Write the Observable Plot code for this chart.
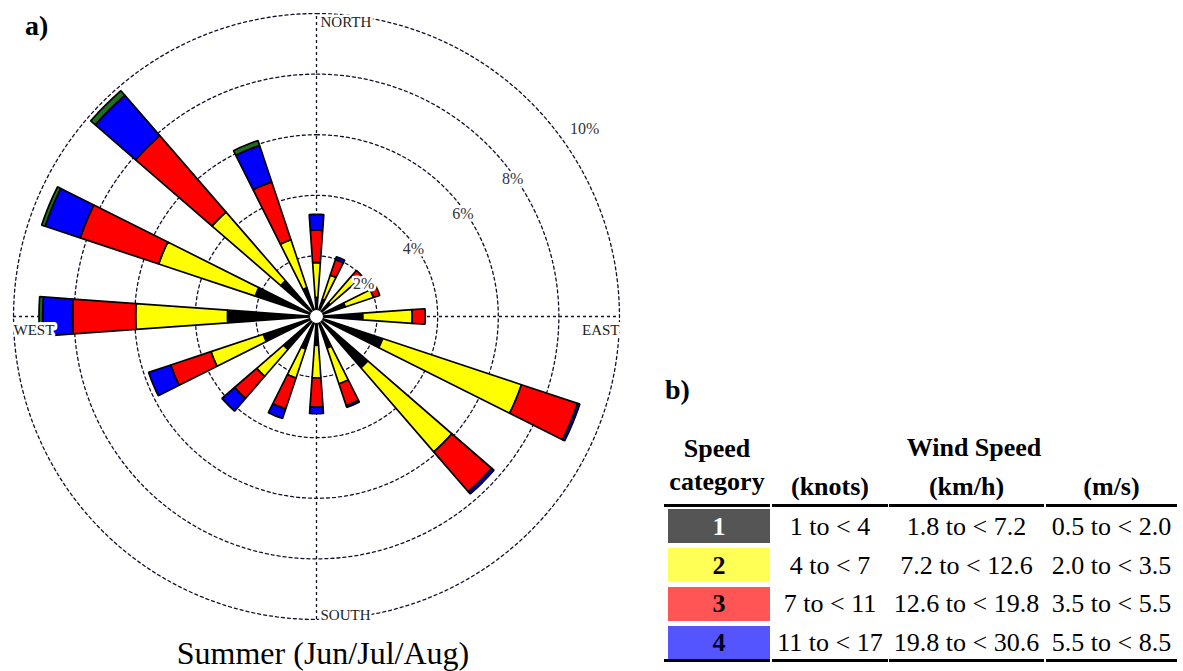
<!DOCTYPE html>
<html>
<head>
<meta charset="utf-8">
<script src="https://cdn.jsdelivr.net/npm/d3@7"></script>
<script src="https://cdn.jsdelivr.net/npm/@observablehq/plot@0.6"></script>
<style>
  html, body { margin: 0; padding: 0; background: #fff; }
  body { width: 1183px; height: 671px; overflow: hidden; position: relative;
         font-family: "Liberation Serif", "Times New Roman", serif; color: #000; }
  #chart { position: absolute; left: 0; top: 0; }
  .t { position: absolute; white-space: nowrap; line-height: 1; }
  .b { font-weight: bold; }
  .rule { position: absolute; background: #000; height: 3px; }
  .box { position: absolute; }
</style>
</head>
<body>
<div id="chart"></div>
<div id="panel"></div>
<script>
// ---------------- data ----------------
const directions = ["N","NNE","NE","ENE","E","ESE","SE","SSE","S","SSW","SW","WSW","W","WNW","NW","NNW"];
const speedCategories = ["1","2","3","4","5"];
// frequency (%) per direction for each speed category
const cat1 = [0.63, 0.60, 0.60, 1.00, 1.53, 2.30, 2.24, 1.10, 0.95, 1.13, 1.44, 1.85, 2.94, 2.13, 1.56, 1.00];
const cat2 = [1.15, 0.84, 1.14, 0.98, 1.63, 4.83, 3.67, 1.24, 1.08, 1.01, 1.17, 1.82, 3.03, 3.36, 3.00, 1.67];
const cat3 = [1.07, 0.54, 0.27, 0.22, 0.43, 1.95, 1.74, 0.75, 0.96, 1.08, 0.97, 1.40, 2.08, 2.73, 3.34, 2.01];
const cat4 = [0.52, 0.10, 0.00, 0.00, 0.00, 0.08, 0.10, 0.07, 0.22, 0.33, 0.55, 0.77, 0.99, 1.22, 1.76, 1.27];
const cat5 = [0.00, 0.00, 0.00, 0.00, 0.00, 0.00, 0.00, 0.00, 0.00, 0.00, 0.00, 0.00, 0.12, 0.12, 0.20, 0.17];
const barColors = ["#000000", "#ffff00", "#ff0000", "#0000ff", "#1f6f1f"];
const ringTicks = [2, 4, 6, 8, 10];
const ringLabels = ["2%", "4%", "6%", "8%", "10%"];
const compassLabels = ["NORTH", "EAST", "SOUTH", "WEST"];
const chartTitle = "Summer (Jun/Jul/Aug)";

// table (panel b)
const tableCategories = ["1", "2", "3", "4"];
const knots = ["1 to < 4", "4 to < 7", "7 to < 11", "11 to < 17"];
const kmh = ["1.8 to < 7.2", "7.2 to < 12.6", "12.6 to < 19.8", "19.8 to < 30.6"];
const ms = ["0.5 to < 2.0", "2.0 to < 3.5", "3.5 to < 5.5", "5.5 to < 8.5"];
const legendColors = ["#555555", "#ffff55", "#ff5555", "#5555ff"];
const legendTextColors = ["#ffffff", "#000000", "#000000", "#000022"];

// ---------------- wind rose ----------------
const catValues = [cat1, cat2, cat3, cat4, cat5];
const half = 4.1 * Math.PI / 180;   // half angular width of a spoke
const segs = [];
directions.forEach((d, i) => {
  const th = i * 22.5 * Math.PI / 180;
  let r0 = 0;
  speedCategories.forEach((c, k) => {
    const v = catValues[k][i];
    if (!(v > 0)) return;
    const r1 = r0 + v;
    const id = d + "-" + c;
    const n = 4;
    for (let j = 0; j <= n; j++) {
      const a = th - half + 2 * half * j / n;
      segs.push({id, cat: c, x: r1 * Math.sin(a), y: r1 * Math.cos(a)});
    }
    for (let j = n; j >= 0; j--) {
      const a = th - half + 2 * half * j / n;
      segs.push({id, cat: c, x: r0 * Math.sin(a), y: r0 * Math.cos(a)});
    }
    r0 = r1;
  });
});

const ringPts = [];
ringTicks.forEach(p => {
  for (let j = 0; j < 240; j++) {
    const a = j / 240 * 2 * Math.PI;
    ringPts.push({p, x: p * Math.sin(a), y: p * Math.cos(a)});
  }
});
const outer = d3.max(ringTicks);
const labAng = 55 * Math.PI / 180;
const ringLab = ringTicks.map((p, i) => {
  const r = p === outer ? p + 0.8 : p - 0.1;
  return {label: ringLabels[i], x: r * Math.sin(labAng), y: r * Math.cos(labAng)};
});

const R = 10.43;
const gridStyle = {stroke: "#10102a", strokeWidth: 1.3, strokeDasharray: "3,3"};
const chart = Plot.plot({
  width: 632, height: 632, margin: 0,
  x: {domain: [-R, R], axis: null},
  y: {domain: [-R, R], axis: null},
  color: {domain: speedCategories, range: barColors},
  style: {background: "transparent", overflow: "visible"},
  marks: [
    Plot.line(ringPts, {x: "x", y: "y", z: "p", curve: "linear-closed", ...gridStyle}),
    Plot.ruleX([0], {y1: -outer, y2: outer, ...gridStyle}),
    Plot.ruleY([0], {x1: -outer, x2: outer, ...gridStyle}),
    Plot.line(segs, {x: "x", y: "y", z: "id", fill: "cat", curve: "linear-closed",
      stroke: "#000", strokeWidth: 1.7, strokeLinejoin: "miter"}),
    Plot.dot([{x: 0, y: 0}], {x: "x", y: "y", r: 6.5, fill: "white", stroke: "none"}),
    Plot.text(ringLab, {x: "x", y: "y", text: "label", fontFamily: "Liberation Serif",
      fontSize: 16, fill: "#333", stroke: "white", strokeWidth: 5}),
    Plot.text([compassLabels[0]], {x: 0, y: outer - 0.3, text: d => d, textAnchor: "start", dx: 4,
      fontFamily: "Liberation Serif", fontSize: 15, fill: "#222", stroke: "white", strokeWidth: 5}),
    Plot.text([compassLabels[2]], {x: 0, y: -(outer - 0.13), text: d => d, textAnchor: "start", dx: 4,
      fontFamily: "Liberation Serif", fontSize: 15, fill: "#222", stroke: "white", strokeWidth: 5}),
    Plot.text([compassLabels[3]], {x: -outer, y: 0, text: d => d, textAnchor: "start", dy: 14,
      fontFamily: "Liberation Serif", fontSize: 15, fill: "#222", stroke: "white", strokeWidth: 6}),
    Plot.text([compassLabels[1]], {x: outer, y: 0, text: d => d, textAnchor: "end", dy: 14,
      fontFamily: "Liberation Serif", fontSize: 15, fill: "#222", stroke: "white", strokeWidth: 6})
  ]
});
document.getElementById("chart").appendChild(chart);

// ---------------- text / table ----------------
const panel = document.getElementById("panel");
function addText(txt, x, baseline, size, opts = {}) {
  const el = document.createElement("div");
  el.className = "t" + (opts.bold ? " b" : "");
  el.textContent = txt;
  el.style.fontSize = size + "px";
  el.style.top = (baseline - 0.8375 * size) + "px";
  if (opts.center) { el.style.left = (x - 400) + "px"; el.style.width = "800px"; el.style.textAlign = "center"; }
  else el.style.left = x + "px";
  if (opts.color) el.style.color = opts.color;
  panel.appendChild(el);
}
addText("a)", 25, 35, 28, {bold: true});
addText(chartTitle, 323, 664, 32, {center: true});
addText("b)", 665, 399, 28, {bold: true});

const colSpans = [[664, 770], [772, 888], [889, 1044], [1046, 1177]];
const colCenter = colSpans.map(([a, b]) => (a + b) / 2);
addText("Speed", 717, 458, 26, {bold: true, center: true});
addText("category", 717, 491, 26, {bold: true, center: true});
addText("Wind Speed", 974, 457, 26, {bold: true, center: true});
addText("(knots)", colCenter[1], 496, 26, {bold: true, center: true});
addText("(km/h)", colCenter[2], 496, 26, {bold: true, center: true});
addText("(m/s)", colCenter[3], 496, 26, {bold: true, center: true});

[504, 659].forEach(y => colSpans.forEach(([a, b]) => {
  const r = document.createElement("div");
  r.className = "rule";
  r.style.left = a + "px"; r.style.width = (b - a) + "px"; r.style.top = y + "px";
  panel.appendChild(r);
}));

const rowTop = [509, 548, 587, 626];
const rowBottom = [543, 582, 621, 659];
const rowBase = [536, 575, 613, 652];
tableCategories.forEach((c, i) => {
  const bx = document.createElement("div");
  bx.className = "box";
  bx.style.left = "668px"; bx.style.width = "102px";
  bx.style.top = rowTop[i] + "px"; bx.style.height = (rowBottom[i] - rowTop[i]) + "px";
  bx.style.background = legendColors[i];
  panel.appendChild(bx);
  addText(c, 719, rowBase[i], 26, {bold: true, center: true, color: legendTextColors[i]});
  addText(knots[i], colCenter[1], rowBase[i], 26, {center: true});
  addText(kmh[i], colCenter[2], rowBase[i], 26, {center: true});
  addText(ms[i], colCenter[3], rowBase[i], 26, {center: true});
});
</script>
</body>
</html>
